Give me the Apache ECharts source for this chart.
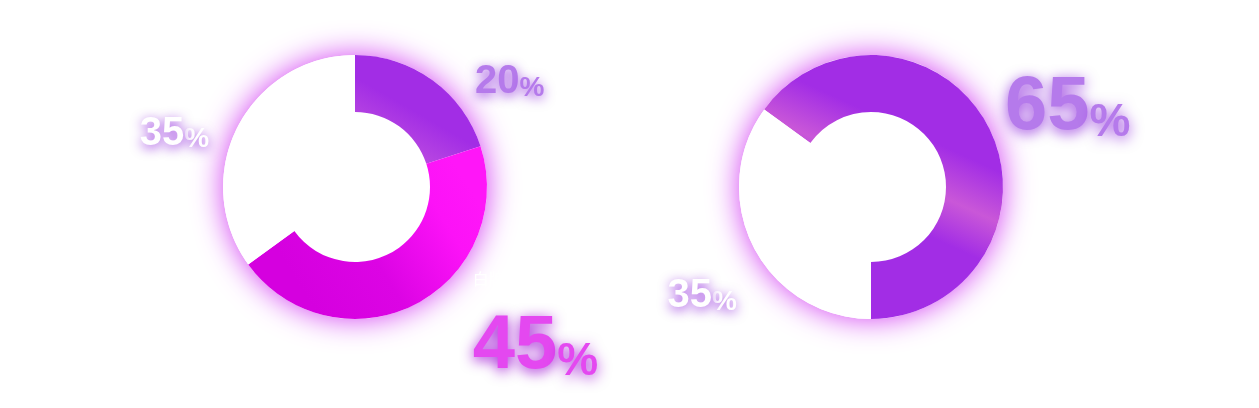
<!DOCTYPE html>
<html><head><meta charset="utf-8">
<script src="https://cdn.jsdelivr.net/npm/echarts@6/dist/echarts.min.js"></script>
<style>html,body{margin:0;padding:0;background:#fff}#c{width:1259px;height:408px}</style>
</head><body><div id="c"></div>
<script>
// ---- data ----
const leftNames = ['4K電視', '白牌4K電視', '美貨4K通用'];
const leftValues = [20, 45, 35];
const rightNames = ['8K電視', '4K通用'];
const rightValues = [65, 35];

// ---- styles ----
const leftSize = ['s', 'b', 's'];
const rightSize = ['b', 's'];
const leftTextColor = ['#b57aeb', '#e448f0', '#ffffff'];
const leftGlow = ['#9a3fe0', '#a41fd6', '#9a3ae0'];
const rightTextColor = ['#b57aeb', '#ffffff'];
const rightGlow = ['#9a3fe0', '#9a3ae0'];
const leftLineLen = [16.3, 25.1, 18.9];
const leftLineLen2 = [27.8, 41.5, 6.5];
const rightLineLen = [86.1, 75.1];
const rightLineLen2 = [-65.3, -55.5];

const purple = '#a22de5';
const leftColors = [
  {type:'linear', x:0.8, y:0, x2:0.3, y2:1, colorStops:[{offset:0,color:purple},{offset:0.55,color:purple},{offset:1,color:'#c253df'}]},
  {type:'linear', x:1, y:0.4, x2:0.3, y2:1, colorStops:[{offset:0,color:'#ff16f8'},{offset:0.2,color:'#fc12f7'},{offset:0.6,color:'#dc04e4'},{offset:1,color:'#d500df'}]},
  '#ffffff'
];
const rightColors = [
  {type:'linear', x:0.725, y:0.055, x2:0.275, y2:0.945, colorStops:[{offset:0,color:purple},{offset:0.26,color:purple},{offset:0.44,color:'#c957d8'},{offset:0.6,color:purple},{offset:1,color:purple}]},
  '#ffffff'
];

const FONT = '"Liberation Sans", Arial, sans-serif';
function richFor(size, color, glow) {
  const big = size === 'b';
  return {
    name: {fontSize: 16, lineHeight: 20, color: '#ffffff', align: 'left', verticalAlign: 'middle',
           fontFamily: '"Noto Sans CJK TC", "Noto Sans CJK SC", sans-serif'},
    v: {fontSize: big ? 76 : 40, lineHeight: big ? 96 : 50, fontWeight: 'bold', color: color, fontFamily: FONT,
        verticalAlign: 'bottom', textShadowColor: glow, textShadowBlur: big ? 14 : 12, textShadowOffsetY: 3},
    u: {fontSize: big ? 46 : 28, lineHeight: big ? 75 : 42, fontWeight: 'bold', color: color, fontFamily: FONT,
        verticalAlign: 'bottom', textShadowColor: glow, textShadowBlur: big ? 14 : 12, textShadowOffsetY: 3}
  };
}

function buildData(names, values, colors, sizes, tcol, glow, len, len2) {
  return values.map((v, i) => ({
    name: names[i], value: v,
    itemStyle: {color: colors[i]},
    label: {rich: richFor(sizes[i], tcol[i], glow[i])},
    labelLine: {show: false, length: len[i], length2: len2[i]}
  }));
}

function glowDisk(center) {
  return {
    type: 'pie', center: center, radius: [0, 132], silent: true, z: 1,
    label: {show: false}, labelLine: {show: false}, emphasis: {disabled: true},
    itemStyle: {color: '#ffffff', shadowBlur: 30, shadowColor: 'rgba(210,60,242,1)'},
    data: [{value: 1, name: ''}]
  };
}

function donut(center, startAngle, data) {
  return {
    type: 'pie', center: center, radius: [75, 132], startAngle: startAngle, clockwise: true, z: 2,
    avoidLabelOverlap: false, silent: true, emphasis: {disabled: true},
    label: {show: true, position: 'outside', alignTo: 'none', distanceToLabelLine: 5, bleedMargin: 0,
            formatter: '{name|{b}}\n{v|{c}}{u|%}', overflow: 'none'},
    labelLine: {show: false},
    data: data
  };
}

const chart = echarts.init(document.getElementById('c'), null, {renderer: 'canvas'});
chart.setOption({
  backgroundColor: '#ffffff',
  animation: false,
  series: [
    glowDisk([355, 187]),
    donut([355, 187], 90, buildData(leftNames, leftValues, leftColors, leftSize, leftTextColor, leftGlow, leftLineLen, leftLineLen2)),
    glowDisk([871, 187]),
    donut([871, 187], 144, buildData(rightNames, rightValues, rightColors, rightSize, rightTextColor, rightGlow, rightLineLen, rightLineLen2))
  ]
});
</script></body></html>
